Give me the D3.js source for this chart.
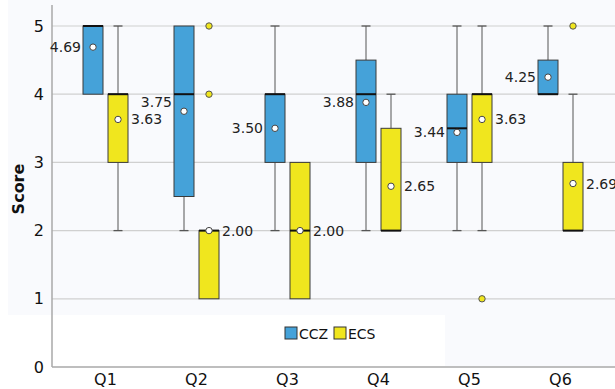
<!DOCTYPE html>
<html><head><meta charset="utf-8">
<script src="https://d3js.org/d3.v7.min.js"></script>
<style>body{margin:0;background:#fff}svg{display:block}text{font-family:"DejaVu Sans",sans-serif}</style>
</head><body><svg id="c" width="615" height="389"></svg>
<script>
const categories = ["Q1","Q2","Q3","Q4","Q5","Q6"];
const groups = ["CCZ","ECS"];
const colors = ["#45a2d9","#f0e61e"];
const yTicks = [0,1,2,3,4,5];
// per group: [Q1..Q6]
const q1CCZ = [4,2.5,3,3,3,4], q3CCZ = [5,5,4,4.5,4,4.5], medCCZ = [5,4,4,4,3.5,4];
const minCCZ = [4,2,2,2,2,4], maxCCZ = [5,5,5,5,5,5], meanCCZ = [4.69,3.75,3.50,3.88,3.44,4.25];
const q1ECS = [3,1,1,2,3,2], q3ECS = [4,2,3,3.5,4,3], medECS = [4,2,2,2,4,2];
const minECS = [2,1,1,2,2,2], maxECS = [5,2,3,4,5,4], meanECS = [3.63,2.00,2.00,2.65,3.63,2.69];
const outCCZ = [[],[],[],[],[],[]];
const outECS = [[],[5,4],[],[],[1],[5]];

const data = [];
categories.forEach((c,i)=>{
  data.push({cat:c,g:"CCZ",q1:q1CCZ[i],q3:q3CCZ[i],med:medCCZ[i],min:minCCZ[i],max:maxCCZ[i],mean:meanCCZ[i],out:outCCZ[i]});
  data.push({cat:c,g:"ECS",q1:q1ECS[i],q3:q3ECS[i],med:medECS[i],min:minECS[i],max:maxECS[i],mean:meanECS[i],out:outECS[i]});
});

const svg = d3.select("#c");
const L=52, R=615, T=5, B=367;
const x = d3.scaleBand().domain(categories).range([60,606]);
const xg = d3.scalePoint().domain(groups).range([-12.5,12.5]);
const y = d3.scaleLinear().domain([0,5]).range([B,26]);
const col = d3.scaleOrdinal().domain(groups).range(colors);
const bw = 20, cap = 9;

// subtle backgrounds
svg.append("rect").attr("x",8).attr("y",0).attr("width",437).attr("height",315).attr("fill","#f9fafd");
svg.append("rect").attr("x",445).attr("y",0).attr("width",170).attr("height",B-1).attr("fill","#f9fafd");

// grid
svg.append("g").selectAll("line").data(yTicks.filter(d=>d>0)).join("line")
  .attr("x1",L).attr("x2",R).attr("y1",d=>y(d)).attr("y2",d=>y(d))
  .attr("stroke","#d0d0d0").attr("stroke-width",1.2);

// axes
const ya = svg.append("g").attr("transform",`translate(${L},0)`).call(d3.axisLeft(y).tickValues(yTicks).tickSize(0).tickPadding(8).tickFormat(d3.format("d")));
ya.select(".domain").remove();
ya.selectAll("text").attr("font-size",16).attr("fill","#111").attr("font-family","DejaVu Sans");
const xa = svg.append("g").attr("transform",`translate(0,${B})`).call(d3.axisBottom(x).tickSize(0).tickPadding(7));
xa.select(".domain").remove();
xa.selectAll("text").attr("font-size",16).attr("fill","#111").attr("font-family","DejaVu Sans");
svg.append("line").attr("x1",L).attr("x2",L).attr("y1",T).attr("y2",B).attr("stroke","#a8a8a8").attr("stroke-width",1.5);
svg.append("line").attr("x1",L).attr("x2",R).attr("y1",B).attr("y2",B).attr("stroke","#a8a8a8").attr("stroke-width",1.5);

svg.append("text").attr("transform",`translate(24,189) rotate(-90)`).attr("text-anchor","middle")
  .attr("font-size",16).attr("font-weight","bold").attr("fill","#111").text("Score");

const cx = d => x(d.cat)+x.bandwidth()/2+xg(d.g);
const gB = svg.append("g");
const gL = svg.append("g");
const placed = [];
data.forEach(d=>{
  const c = cx(d);
  const g = gB.append("g");
  if(d.max>d.q3){
    g.append("line").attr("x1",c).attr("x2",c).attr("y1",y(d.q3)).attr("y2",y(d.max)).attr("stroke","#555");
    g.append("line").attr("x1",c-cap/2).attr("x2",c+cap/2).attr("y1",y(d.max)).attr("y2",y(d.max)).attr("stroke","#555").attr("stroke-width",1.3);
  }
  if(d.min<d.q1){
    g.append("line").attr("x1",c).attr("x2",c).attr("y1",y(d.q1)).attr("y2",y(d.min)).attr("stroke","#555");
    g.append("line").attr("x1",c-cap/2).attr("x2",c+cap/2).attr("y1",y(d.min)).attr("y2",y(d.min)).attr("stroke","#555").attr("stroke-width",1.3);
  }
  g.append("rect").attr("x",c-bw/2).attr("width",bw).attr("y",y(d.q3)).attr("height",y(d.q1)-y(d.q3))
    .attr("fill",col(d.g)).attr("stroke","#3a3a3a").attr("stroke-width",1);
  g.append("line").attr("x1",c-bw/2).attr("x2",c+bw/2).attr("y1",y(d.med)).attr("y2",y(d.med)).attr("stroke","#111").attr("stroke-width",2);
  d.out.forEach(o=>{
    g.append("circle").attr("cx",c).attr("cy",y(o)).attr("r",3.2).attr("fill","#f0e61e").attr("stroke","#555").attr("stroke-width",1);
  });
  g.append("circle").attr("cx",c).attr("cy",y(d.mean)).attr("r",3.2).attr("fill","#fff").attr("stroke","#444").attr("stroke-width",1);
  const left = d.g==="CCZ";
  const t = gL.append("text").attr("x", left ? c-bw/2-2 : c+bw/2+3).attr("y",y(d.mean)+5)
    .attr("text-anchor", left ? "end":"start").attr("font-size", 14).attr("fill","#222")
    .text(d3.format(".2f")(d.mean));
  // simple collision avoidance: nudge upward if overlapping an earlier label
  let bb = t.node().getBBox();
  placed.forEach(p=>{
    if(bb.x < p.x+p.width && bb.x+bb.width > p.x && bb.y < p.y+p.height && bb.y+bb.height > p.y){
      const shift = (bb.y+bb.height) - p.y + 1;
      t.attr("y", +t.attr("y") - shift);
      bb = t.node().getBBox();
    }
  });
  placed.push(bb);
});

// legend
const lg = svg.append("g").attr("transform","translate(285,327)");
groups.forEach((g,i)=>{
  const gx = i*49;
  lg.append("rect").attr("x",gx).attr("y",0).attr("width",12).attr("height",12).attr("fill",colors[i]).attr("stroke","#333");
  lg.append("text").attr("x",gx+14).attr("y",11.5).attr("font-size",14).attr("fill","#111").text(g);
});
</script></body></html>
